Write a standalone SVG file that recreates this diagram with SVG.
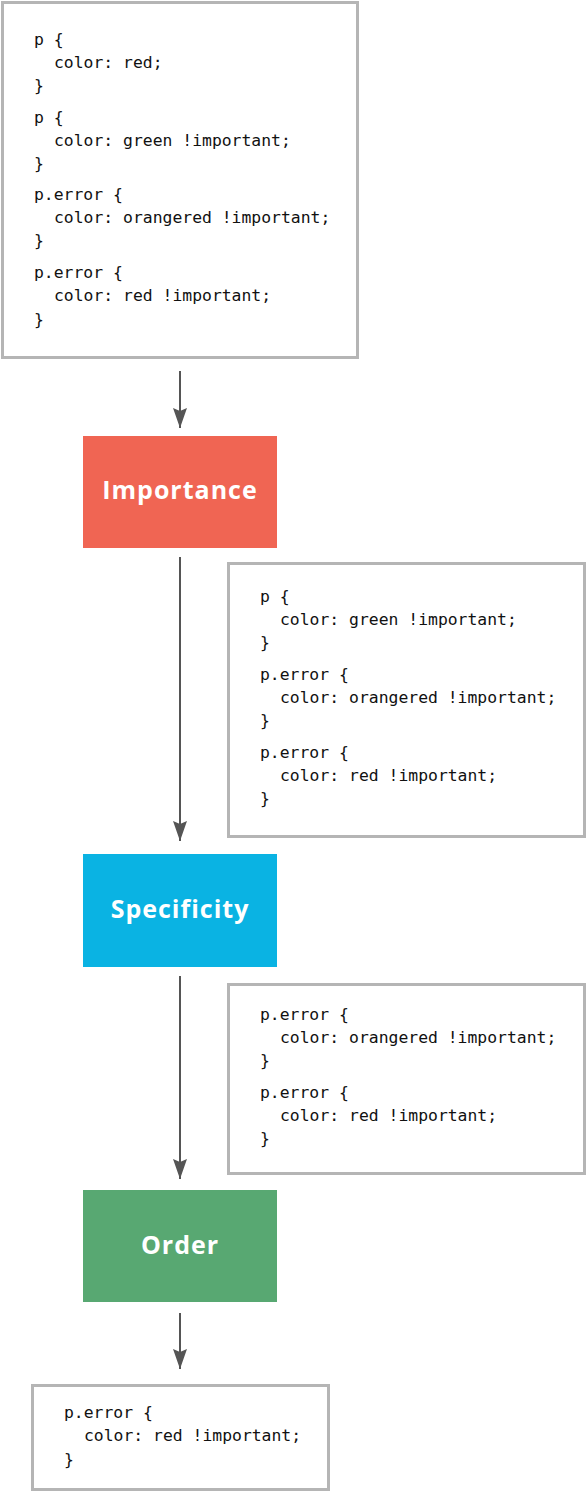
<svg xmlns="http://www.w3.org/2000/svg" width="586" height="1492" viewBox="0 0 586 1492">
<style>
.code{fill:#fff;stroke:#b5b5b5;stroke-width:3}
.mono{font-family:"DejaVu Sans Mono","Liberation Mono",monospace;font-size:16.4px;fill:#111}
.lbl{font-family:"Open Sans","Noto Sans",sans-serif;font-weight:700;font-size:25px;letter-spacing:1px;fill:#fff;text-anchor:middle}
.conn{stroke:#555;stroke-width:2;fill:none}
</style>
<defs>
<marker id="ah" markerWidth="20" markerHeight="14" refX="20" refY="7" orient="auto" markerUnits="userSpaceOnUse" viewBox="0 0 20 14">
<path d="M0,0 L20,7 L0,14 L3,7 Z" fill="#555"/>
</marker>
</defs>
<rect width="586" height="1492" fill="#fff"/>
<g id="connectors">
<line class="conn" x1="180" y1="371" x2="180" y2="428" marker-end="url(#ah)"/>
<line class="conn" x1="180" y1="557" x2="180" y2="841" marker-end="url(#ah)"/>
<line class="conn" x1="180" y1="976" x2="180" y2="1179" marker-end="url(#ah)"/>
<line class="conn" x1="180" y1="1313" x2="180" y2="1369" marker-end="url(#ah)"/>
</g>
<g id="code1">
<rect class="code" x="2.5" y="2.5" width="355" height="355"/>
<text class="mono" x="34" y="45">p {</text>
<text class="mono" x="54" y="68">color: red;</text>
<text class="mono" x="34" y="91">}</text>
<text class="mono" x="34" y="123">p {</text>
<text class="mono" x="54" y="146">color: green !important;</text>
<text class="mono" x="34" y="169">}</text>
<text class="mono" x="34" y="200">p.error {</text>
<text class="mono" x="54" y="223">color: orangered !important;</text>
<text class="mono" x="34" y="246">}</text>
<text class="mono" x="34" y="278">p.error {</text>
<text class="mono" x="54" y="301">color: red !important;</text>
<text class="mono" x="34" y="325">}</text>
</g>
<g id="importance">
<rect x="83" y="436" width="194" height="112" fill="#f06553"/>
<text class="lbl" x="180" y="499">Importance</text>
</g>
<g id="code2">
<rect class="code" x="228.5" y="563.5" width="356" height="273"/>
<text class="mono" x="260" y="602">p {</text>
<text class="mono" x="280" y="625">color: green !important;</text>
<text class="mono" x="260" y="648">}</text>
<text class="mono" x="260" y="680">p.error {</text>
<text class="mono" x="280" y="703">color: orangered !important;</text>
<text class="mono" x="260" y="726">}</text>
<text class="mono" x="260" y="758">p.error {</text>
<text class="mono" x="280" y="781">color: red !important;</text>
<text class="mono" x="260" y="804">}</text>
</g>
<g id="specificity">
<rect x="83" y="854" width="194" height="113" fill="#0ab3e3"/>
<text class="lbl" x="180" y="918">Specificity</text>
</g>
<g id="code3">
<rect class="code" x="228.5" y="984.5" width="356" height="189"/>
<text class="mono" x="260" y="1020">p.error {</text>
<text class="mono" x="280" y="1043">color: orangered !important;</text>
<text class="mono" x="260" y="1066">}</text>
<text class="mono" x="260" y="1098">p.error {</text>
<text class="mono" x="280" y="1121">color: red !important;</text>
<text class="mono" x="260" y="1144">}</text>
</g>
<g id="order">
<rect x="83" y="1190" width="194" height="112" fill="#58a872"/>
<text class="lbl" x="180" y="1254">Order</text>
</g>
<g id="code4">
<rect class="code" x="32.5" y="1385.5" width="296" height="104"/>
<text class="mono" x="64" y="1418">p.error {</text>
<text class="mono" x="84" y="1441">color: red !important;</text>
<text class="mono" x="64" y="1465">}</text>
</g>
</svg>
